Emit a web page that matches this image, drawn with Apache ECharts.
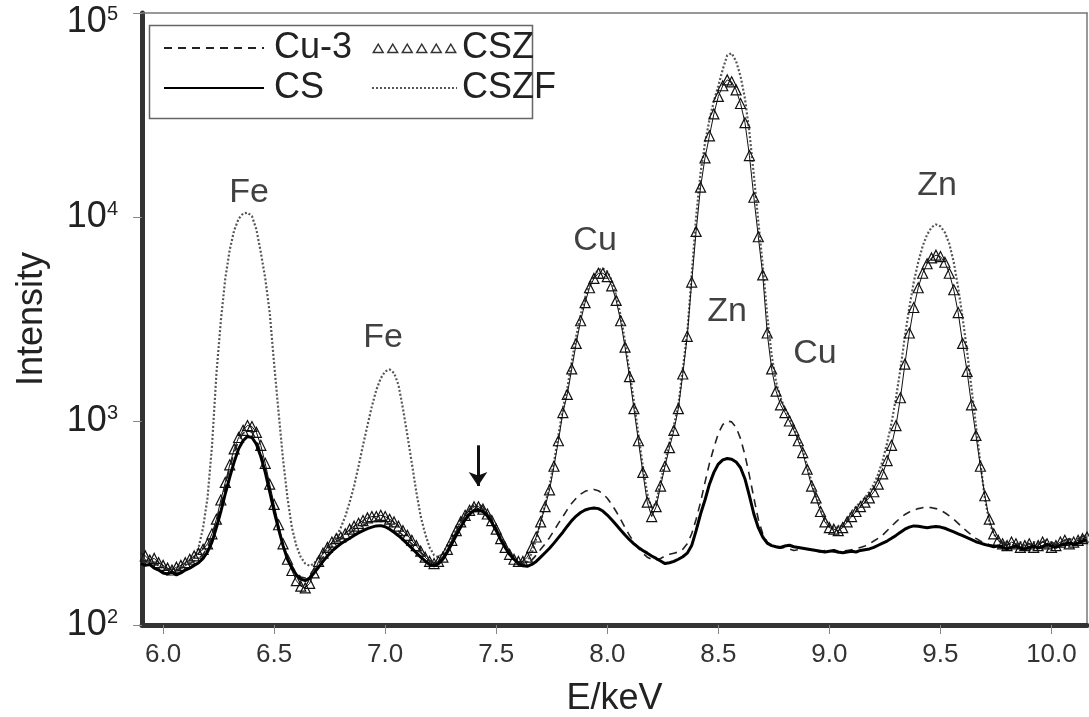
<!DOCTYPE html>
<html><head><meta charset="utf-8">
<script src="https://cdn.jsdelivr.net/npm/echarts@6/dist/echarts.min.js"></script>
<style>html,body{margin:0;padding:0;background:#fff}#c{width:1089px;height:717px}</style>
</head><body><div id="c"></div>
<script>
// channel energies: E = E_START + i * E_STEP (keV)
const E_START = 5.90, E_STEP = 0.02;

const cu3 = [
210,204,212,200,195,190,187,192,185,190,
195,200,206,212,222,240,270,320,390,480,
590,700,800,870,900,880,810,700,580,460,
370,300,250,215,195,180,172,170,176,188,
200,215,228,242,255,265,272,282,292,300,
308,315,320,326,328,322,312,300,288,275,
262,250,238,226,215,207,202,206,216,234,
258,285,315,345,370,390,392,380,358,330,
300,270,245,226,212,203,198,200,208,220,
235,250,268,290,315,340,368,395,418,438,
452,460,462,455,440,418,390,360,330,300,
275,255,238,225,215,210,208,212,218,222,
225,228,235,250,280,330,400,500,620,740,
870,960,1000,990,930,820,680,540,420,330,
280,255,245,240,238,240,236,232,234,236,
235,232,230,228,232,230,228,226,230,232,
234,236,240,244,250,258,266,276,290,305,
320,335,348,358,366,372,376,378,376,372,
365,355,343,330,315,300,288,276,266,258,
252,248,245,250,255,248,242,246,252,256,
250,244,248,256,262,255,248,252,260,265,
260,265,272,278];

const cs = [
200,196,198,190,186,180,178,182,176,180,
186,190,196,202,212,228,255,300,360,440,
530,630,730,800,840,830,770,670,560,450,
360,295,245,210,190,176,168,165,170,180,
192,205,218,230,240,250,258,266,275,283,
290,297,302,306,307,303,295,285,274,262,
250,238,226,215,206,198,195,200,210,228,
250,275,302,328,350,365,368,360,342,318,
290,262,240,222,210,200,195,194,198,205,
215,226,238,252,268,285,305,325,342,356,
366,372,375,372,362,346,328,310,292,276,
262,250,240,232,225,218,212,206,200,202,
205,210,216,225,245,290,350,410,490,560,
615,645,655,650,630,590,520,430,350,300,
270,252,245,242,240,244,246,242,240,238,
236,234,232,230,228,230,232,228,226,228,
230,228,232,234,236,240,246,252,258,266,
275,285,295,302,306,305,302,300,302,304,
302,298,292,286,280,274,268,262,256,252,
248,245,242,244,240,236,240,244,238,236,
240,244,238,242,248,244,240,246,250,252,
248,252,258,262];

const csz = [
225,218,208,212,202,196,190,186,192,196,
202,210,218,225,235,250,280,330,410,500,
610,730,830,900,950,940,880,760,620,490,
390,310,250,210,185,165,155,152,160,180,
205,225,240,255,265,270,280,295,305,315,
325,335,340,340,345,340,330,320,305,290,
275,260,245,230,215,205,200,205,215,235,
260,290,320,345,365,380,380,370,350,325,
295,265,240,222,210,205,205,215,240,270,
320,380,460,600,800,1100,1350,1800,2400,3100,
3800,4500,5000,5300,5300,5100,4600,3900,3100,2300,
1650,1150,800,560,400,340,380,480,600,740,
900,1150,1700,2600,4800,8500,14000,19500,25000,32000,
39000,44000,47000,46000,42000,36000,29000,20000,12500,8000,
5200,2700,1800,1400,1200,1100,1000,900,800,700,
580,480,420,360,320,300,295,290,300,320,
340,360,380,400,420,450,490,550,640,760,
950,1300,1900,2700,3600,4500,5300,5900,6300,6500,
6400,6000,5300,4400,3400,2400,1750,1200,850,600,
430,330,280,260,250,245,255,250,240,245,
250,240,245,255,250,240,245,255,260,250,
255,260,265,270];

const cszf = [
215,208,200,205,196,190,186,190,184,190,
196,204,215,240,300,420,750,1700,3100,5000,
6900,8600,9800,10400,10500,10100,8700,6700,5000,3400,
1900,1100,650,420,300,245,215,200,195,200,
215,225,235,250,270,300,340,400,480,600,
760,950,1180,1420,1620,1750,1790,1720,1500,1150,
850,620,450,340,280,240,220,215,225,245,
270,300,330,350,370,385,385,370,350,325,
295,270,245,228,215,205,200,205,225,265,
320,390,480,630,850,1150,1450,1950,2600,3300,
4000,4700,5200,5500,5600,5400,4900,4100,3300,2450,
1750,1250,860,600,440,370,400,500,630,780,
950,1200,1800,2700,5200,10000,16500,23000,30000,37000,
44000,53000,62000,63500,58000,49000,38000,26000,16000,9500,
5800,3300,2100,1550,1300,1150,1050,930,820,720,
600,500,430,370,330,310,300,300,310,330,
360,380,400,420,450,490,550,640,780,980,
1300,1800,2600,3600,4800,6000,7200,8200,8900,9200,
9000,8400,7400,6000,4500,3200,2200,1450,950,620,
420,320,280,260,250,255,245,250,255,245,
245,255,250,240,250,255,245,250,260,255,
250,260,270,275];

const xTicks = [6.0, 6.5, 7.0, 7.5, 8.0, 8.5, 9.0, 9.5, 10.0];
const xMin = 5.905, xMax = 10.16;
const yMin = 100, yMax = 100000;

const peakLabels = ['Fe', 'Fe', 'Cu', 'Zn', 'Cu', 'Zn'];
const peakLabelE = [6.387, 6.990, 7.945, 8.539, 8.935, 9.485];
const peakLabelI = [13100, 2550, 7700, 3450, 2130, 14200];
const arrowE = 7.418, arrowTop = 760, arrowBottom = 480;

const energies = cu3.map((_, i) => +(E_START + i * E_STEP).toFixed(2));
const pairs = vals => vals.map((v, i) => [energies[i], v]);

const FONT = "'Liberation Sans', Arial, sans-serif";

// legend icon: row of hollow triangles
let tri = '';
for (let k = 0; k < 6; k++) {
  const x = k * 14;
  tri += `M${x},10 L${x+6},0 L${x+12},10 Z M${x+2.5},8.6 L${x+9.5},8.6 L${x+6},2.7 Z `;
}
const lineItem = name => ({name: name, icon: 'inherit', itemStyle: {opacity: 0}});

const chart = echarts.init(document.getElementById('c'), null, {renderer: 'canvas'});
chart.setOption({
  animation: false,
  backgroundColor: '#fff',
  grid: {left: 142, right: 2, top: 13, bottom: 92, containLabel: false, outerBoundsMode: 'none'},
  graphic: [{
    type: 'rect', left: 147, top: 23, z: 1,
    shape: {width: 383, height: 93},
    style: {fill: 'none', stroke: '#666', lineWidth: 1.5}
  }],
  legend: [{
    data: [lineItem('Cu-3'), lineItem('CS')],
    orient: 'vertical', left: 163, top: 30, padding: 0,
    itemWidth: 100, itemHeight: 14, itemGap: 4,
    textStyle: {fontFamily: FONT, fontSize: 36, color: '#222', lineHeight: 36, padding: [0, 0, 0, 5]}
  }, {
    data: [{name: 'CSZ', icon: 'path://' + tri, itemStyle: {color: '#333', borderWidth: 0}}, lineItem('CSZF')],
    orient: 'vertical', left: 371, top: 30, padding: 0,
    itemWidth: 85, itemHeight: 12, itemGap: 4,
    textStyle: {fontFamily: FONT, fontSize: 36, color: '#222', lineHeight: 36, padding: [0, 0, 0, 0]}
  }],
  xAxis: [{
    type: 'value', min: xMin, max: xMax, position: 'bottom',
    name: 'E/keV', nameLocation: 'middle', nameGap: 56,
    nameTextStyle: {fontFamily: FONT, fontSize: 36, color: '#222'},
    axisLine: {onZero: false, lineStyle: {color: '#333', width: 5}},
    axisTick: {show: true, customValues: xTicks, length: 9, lineStyle: {color: '#888', width: 1}},
    axisLabel: {customValues: xTicks, margin: 17, fontFamily: FONT, fontSize: 26, color: '#333',
      formatter: v => v.toFixed(1)},
    splitLine: {show: false}
  }, {
    type: 'value', min: xMin, max: xMax, position: 'top',
    axisLine: {onZero: false, lineStyle: {color: '#777', width: 1.5}},
    axisTick: {show: false}, axisLabel: {show: false}, splitLine: {show: false}
  }],
  yAxis: [{
    type: 'log', logBase: 10, min: yMin, max: yMax, position: 'left',
    name: 'Intensity', nameLocation: 'middle', nameGap: 92,
    nameTextStyle: {fontFamily: FONT, fontSize: 36, color: '#222'},
    axisLine: {show: true, lineStyle: {color: '#333', width: 5}},
    axisTick: {show: true, length: 9, lineStyle: {color: '#888', width: 1}},
    minorTick: {show: false},
    axisLabel: {
      margin: 24, fontFamily: FONT, color: '#222',
      formatter: v => {
        const e = Math.round(Math.log10(v));
        return e === 5 ? '{t|10}{ts|' + e + '}' : '{b|10}{s|' + e + '}';
      },
      rich: {
        b: {fontFamily: FONT, fontSize: 36, color: '#222'},
        s: {fontFamily: FONT, fontSize: 20, color: '#222', verticalAlign: 'top'},
        t: {fontFamily: FONT, fontSize: 36, color: '#222', padding: [18, 0, 0, 0]},
        ts: {fontFamily: FONT, fontSize: 20, color: '#222', verticalAlign: 'top', padding: [18, 0, 0, 0]}
      }
    },
    splitLine: {show: false}
  }, {
    type: 'log', logBase: 10, min: yMin, max: yMax, position: 'right',
    axisLine: {show: true, lineStyle: {color: '#777', width: 1.5}},
    axisTick: {show: false}, axisLabel: {show: false}, splitLine: {show: false}
  }],
  series: [{
    name: 'CSZF', type: 'line', data: pairs(cszf), symbol: 'none', z: 2,
    lineStyle: {color: '#555', width: 2.2, type: [2, 2]}
  }, {
    name: 'CSZ', type: 'line', data: pairs(csz), symbol: 'triangle', symbolSize: 10, z: 3,
    showSymbol: true,
    itemStyle: {color: 'rgba(255,255,255,0)', borderColor: '#111', borderWidth: 1.2},
    lineStyle: {color: '#111', width: 1}
  }, {
    name: 'Cu-3', type: 'line', data: pairs(cu3), symbol: 'none', z: 4,
    lineStyle: {color: '#222', width: 1.6, type: [8, 6]}
  }, {
    name: 'CS', type: 'line', data: pairs(cs), symbol: 'none', z: 5,
    lineStyle: {color: '#000', width: 3}
  }, {
    name: 'labels', type: 'scatter', z: 6, symbolSize: 1,
    itemStyle: {color: 'rgba(0,0,0,0)'},
    data: peakLabelE.map((e, i) => [e, peakLabelI[i]]),
    label: {show: true, position: 'inside', fontFamily: FONT, fontSize: 34, color: '#111',
      formatter: p => peakLabels[p.dataIndex]},
    markLine: {
      silent: true, symbol: ['none', 'arrow'], symbolSize: [14, 14],
      label: {show: false},
      lineStyle: {color: '#111', width: 3, type: 'solid'},
      data: [[{coord: [arrowE, arrowTop]}, {coord: [arrowE, arrowBottom]}]]
    }
  }]
});
</script>
</body></html>
